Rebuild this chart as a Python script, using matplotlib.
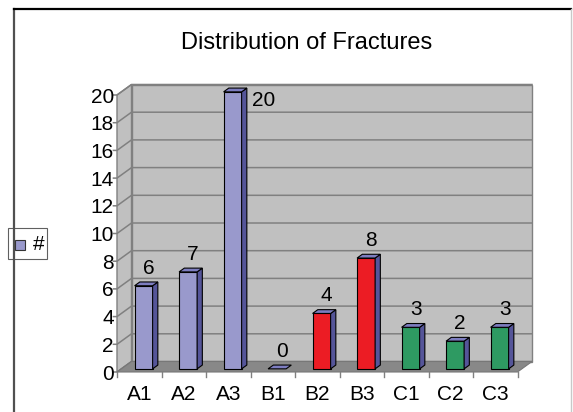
import matplotlib
matplotlib.use("Agg")
import matplotlib.pyplot as plt
from matplotlib.patches import Polygon, Rectangle
from matplotlib.lines import Line2D

categories = ["A1", "A2", "A3", "B1", "B2", "B3", "C1", "C2", "C3"]
counts = [6, 7, 20, 0, 4, 8, 3, 2, 3]
bar_colors = ["#9999cc", "#9999cc", "#9999cc", "#9999cc",
              "#ec1c24", "#ec1c24", "#2e9a62", "#2e9a62", "#2e9a62"]
y_ticks = list(range(0, 21, 2))
title = "Distribution of Fractures"
legend_label = "#"

W, H = 573, 412
plt.rcParams["font.family"] = ["Liberation Sans", "DejaVu Sans"]

# depth vector of the 3d box, in data units (x: slots, y: values)
DX, DY = 0.326, 0.758
WALL = "#c0c0c0"
GRID = "#808080"
TOP = "#7d7dc0"
SIDE = "#555599"


def fx(px):
    return px / W


def fy(py):
    return 1 - py / H


fig = plt.figure(figsize=(W / 100, H / 100), dpi=100)
ax = fig.add_axes([0, 0, 1, 1])
ax.set_xlim(-117 / 44.5, (W - 117) / 44.5)
ax.set_ylim((372 - H) / 13.85, 372 / 13.85)
ax.axis("off")

n = len(categories)
ymax = y_ticks[-1]

# walls and floor
ax.add_patch(Polygon([(0, 0), (DX, DY), (DX, ymax + DY), (0, ymax)],
                     closed=True, fc=WALL, ec=GRID, lw=1.0, zorder=1))
ax.add_patch(Polygon([(DX, DY), (n + DX, DY), (n + DX, ymax + DY), (DX, ymax + DY)],
                     closed=True, fc=WALL, ec=GRID, lw=1.0, zorder=1))
ax.add_patch(Polygon([(0, 0), (n, 0), (n + DX, DY), (DX, DY)],
                     closed=True, fc="#888888", ec="#777777", lw=0.8, zorder=2))

# gridlines + value axis
for v in y_ticks:
    ax.plot([-0.08, 0, DX, n + DX], [v, v, v + DY, v + DY], color=GRID, lw=1.1, zorder=1.5)
    ax.text(-0.07, v - 0.15, str(v), ha="right", va="center", fontsize=15, zorder=5)

# category axis
for i in range(n + 1):
    ax.plot([i, i], [0, -0.36], color=GRID, lw=1.0, zorder=3)
for i, c in enumerate(categories):
    ax.text(i + 0.5, -1.66, c, ha="center", va="center", fontsize=15, zorder=5)

# bars
w, f0, fb = 0.405, 0.3, 0.36
for i, (v, col) in enumerate(zip(counts, bar_colors)):
    x0 = i + 0.5 - w / 2 + f0 * DX
    x1 = x0 + w
    b = f0 * DY
    t = v + b
    ddx, ddy = fb * DX, fb * DY
    if v > 0:
        ax.add_patch(Polygon([(x0, b), (x1, b), (x1, t), (x0, t)],
                             closed=True, fc=col, ec="black", lw=0.8, zorder=4))
        ax.add_patch(Polygon([(x1, b), (x1 + ddx, b + ddy), (x1 + ddx, t + ddy), (x1, t)],
                             closed=True, fc=SIDE, ec="black", lw=0.8, zorder=4))
    ax.add_patch(Polygon([(x0, t), (x1, t), (x1 + ddx, t + ddy), (x0 + ddx, t + ddy)],
                         closed=True, fc=TOP, ec="black", lw=0.8, zorder=4))
    if v >= ymax:
        ax.text(i + 1.3, v - 0.4, str(v), ha="center", va="center", fontsize=15, zorder=6)
    else:
        ax.text(i + 0.71, v + 1.5, str(v), ha="center", va="center", fontsize=15, zorder=6)

# title
fig.text(fx(307), fy(43), title, ha="center", va="center", fontsize=17)

# chart frame
fig.add_artist(Line2D([fx(14), fx(14)], [fy(9), 0], color="#505050", lw=1.6))
fig.add_artist(Line2D([fx(14), fx(571)], [fy(9), fy(9)], color="black", lw=1.6))
fig.add_artist(Line2D([fx(571), fx(571)], [fy(9), 0], color="#c8c8c8", lw=1.0))

# legend
fig.add_artist(Rectangle((fx(8), fy(259)), fx(39), 31 / H, transform=fig.transFigure,
                         fc="white", ec="#606060", lw=0.8))
fig.add_artist(Rectangle((fx(15), fy(250)), fx(10), 10 / H, transform=fig.transFigure,
                         fc=bar_colors[0], ec="#333333", lw=0.8))
fig.text(fx(39), fy(245), legend_label, ha="center", va="center", fontsize=15)

fig.savefig("out.png", dpi=100)
